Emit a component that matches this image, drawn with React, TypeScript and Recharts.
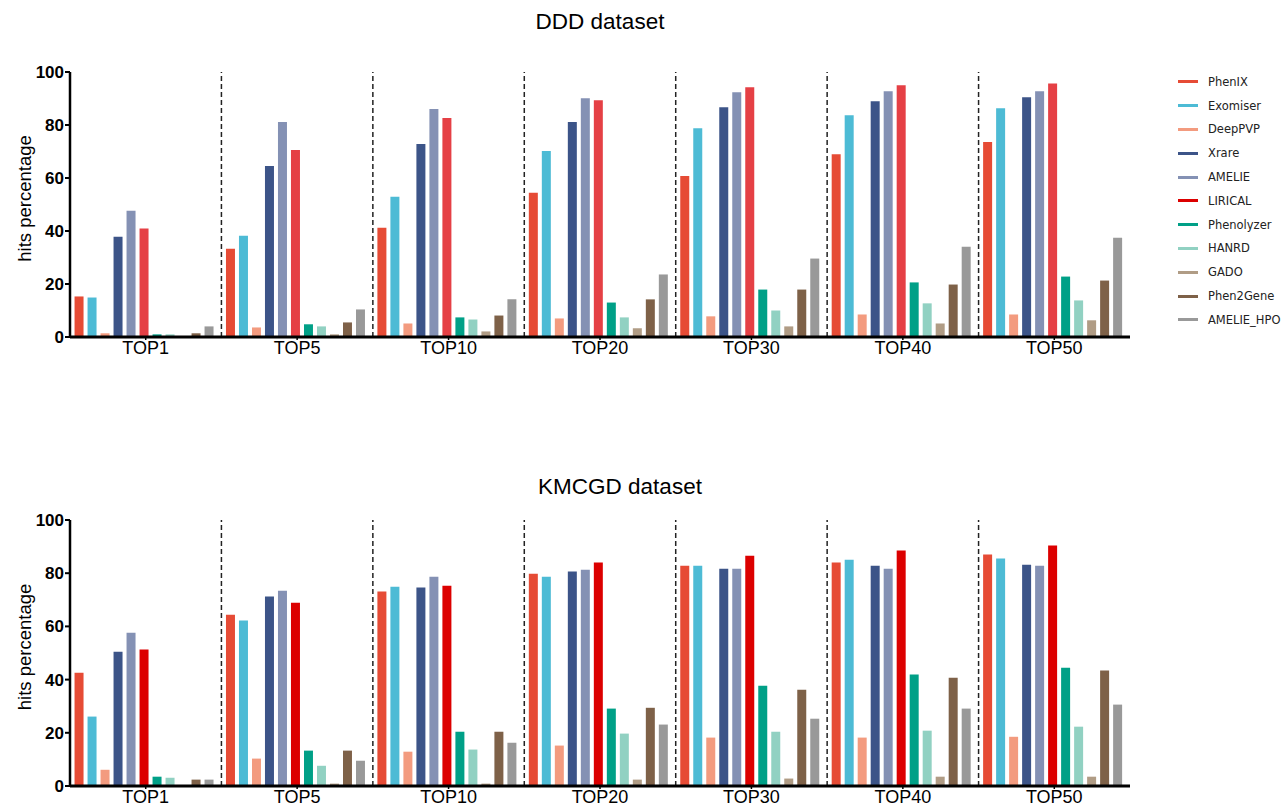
import React from 'react';
import { BarChart, Bar, XAxis, YAxis, ReferenceLine, Label } from 'recharts';

const categories = ['TOP1', 'TOP5', 'TOP10', 'TOP20', 'TOP30', 'TOP40', 'TOP50'];
const methods = ['PhenIX', 'Exomiser', 'DeepPVP', 'Xrare', 'AMELIE', 'LIRICAL', 'Phenolyzer', 'HANRD', 'GADO', 'Phen2Gene', 'AMELIE_HPO'];
const colors = ['#E64B35', '#4DBBD5', '#F39B7F', '#3C5488', '#8491B4', '#DC0000', '#00A087', '#91D1C2', '#B09C85', '#7E6148', '#999999'];
const dddColors = ['#E64B35', '#4DBBD5', '#F39B7F', '#3C5488', '#8491B4', '#E54045', '#00A087', '#91D1C2', '#B09C85', '#7E6148', '#999999'];
const yTicks = [0, 20, 40, 60, 80, 100];
const separators = categories.slice(1);

// DDD dataset
const dddPhenIX = [15.3, 33.3, 41.2, 54.4, 60.8, 69.0, 73.6];
const dddExomiser = [14.9, 38.2, 52.9, 70.2, 78.8, 83.7, 86.3];
const dddDeepPVP = [1.4, 3.6, 5.1, 7.0, 7.8, 8.5, 8.5];
const dddXrare = [37.8, 64.5, 72.8, 81.1, 86.7, 89.0, 90.5];
const dddAMELIE = [47.6, 81.1, 86.0, 90.1, 92.4, 92.7, 92.7];
const dddLIRICAL = [40.9, 70.6, 82.6, 89.3, 94.2, 95.0, 95.7];
const dddPhenolyzer = [1.0, 4.8, 7.4, 13.0, 17.9, 20.6, 22.8];
const dddHANRD = [1.0, 4.0, 6.6, 7.4, 10.0, 12.7, 13.8];
const dddGADO = [0, 1.0, 2.1, 3.3, 4.0, 5.1, 6.3];
const dddPhen2Gene = [1.4, 5.5, 8.1, 14.2, 17.9, 19.8, 21.3];
const dddAMELIE_HPO = [4.0, 10.4, 14.2, 23.6, 29.6, 34.1, 37.5];

// KMCGD dataset
const kmPhenIX = [42.6, 64.4, 73.1, 79.8, 82.8, 84.0, 87.0];
const kmExomiser = [26.1, 62.2, 74.9, 78.7, 82.8, 85.1, 85.5];
const kmDeepPVP = [6.1, 10.3, 12.9, 15.2, 18.2, 18.2, 18.5];
const kmXrare = [50.5, 71.2, 74.6, 80.6, 81.7, 82.8, 83.2];
const kmAMELIE = [57.6, 73.4, 78.7, 81.3, 81.7, 81.7, 82.8];
const kmLIRICAL = [51.3, 68.9, 75.3, 84.0, 86.6, 88.5, 90.4];
const kmPhenolyzer = [3.5, 13.3, 20.4, 29.1, 37.7, 41.9, 44.5];
const kmHANRD = [3.1, 7.6, 13.7, 19.7, 20.4, 20.8, 22.3];
const kmGADO = [0, 0.9, 0.9, 2.4, 2.8, 3.5, 3.5];
const kmPhen2Gene = [2.4, 13.3, 20.4, 29.4, 36.2, 40.7, 43.4];
const kmAMELIE_HPO = [2.4, 9.5, 16.3, 23.1, 25.3, 29.1, 30.6];

const dddSeries = [dddPhenIX, dddExomiser, dddDeepPVP, dddXrare, dddAMELIE, dddLIRICAL, dddPhenolyzer, dddHANRD, dddGADO, dddPhen2Gene, dddAMELIE_HPO];
const kmSeries = [kmPhenIX, kmExomiser, kmDeepPVP, kmXrare, kmAMELIE, kmLIRICAL, kmPhenolyzer, kmHANRD, kmGADO, kmPhen2Gene, kmAMELIE_HPO];

function buildRows(series: number[][]) {
  return categories.map((c, i) => {
    const row: Record<string, any> = { name: c };
    methods.forEach((m, j) => {
      row[m] = series[j][i];
    });
    return row;
  });
}

const dddData = buildRows(dddSeries);
const kmData = buildRows(kmSeries);

const FONT = '"Liberation Sans", Arial, sans-serif';

const YLabel = (props: any) => {
  const vb = props.viewBox || {};
  const cx = 24;
  const cy = vb.y + vb.height / 2 - 6;
  return (
    <text x={cx} y={cy} transform={`rotate(-90, ${cx}, ${cy})`} textAnchor="middle" dominantBaseline="central"
      style={{ fontFamily: FONT, fontSize: 18.5, fill: '#000' }}>
      hits percentage
    </text>
  );
};

const ChartLegend = () => (
  <div style={{ position: 'absolute', left: 1178, top: 70, width: 106, fontFamily: '"DejaVu Sans", sans-serif', fontSize: 11.5, color: '#222' }}>
    {methods.map((m, i) => (
      <div key={m} style={{ display: 'flex', alignItems: 'center', height: 23.8 }}>
        <div style={{ width: 20, height: 3, background: colors[i], marginRight: 10 }} />
        <span>{m}</span>
      </div>
    ))}
  </div>
);

function Panel({ data, palette, top, height, marginTop, xHeight, marginBottom }: any) {
  return (
    <div style={{ position: 'absolute', left: 0, top, width: 1284, height }}>
      <BarChart width={1284} height={height} data={data}
        margin={{ top: marginTop, right: 154, bottom: marginBottom, left: 0 }}
        barCategoryGap="3%" barGap={4}>
        <XAxis dataKey="name" axisLine={{ stroke: '#000', strokeWidth: 3 }}
          tickLine={{ stroke: '#000', strokeWidth: 1.5 }} tickSize={3} tickMargin={1} height={xHeight}
          tick={{ fontFamily: FONT, fontSize: 18, fill: '#000' }} interval={0} />
        <YAxis domain={[0, 100]} ticks={yTicks} width={70} interval={0}
          axisLine={{ stroke: '#000', strokeWidth: 2.5 }}
          tickLine={{ stroke: '#000', strokeWidth: 2 }} tickSize={5} tickMargin={1}
          tick={{ fontFamily: FONT, fontSize: 17, fontWeight: 'bold', fill: '#000' }}>
          <Label content={<YLabel />} />
        </YAxis>
        {separators.map((s) => (
          <ReferenceLine key={s} x={s} position="start" stroke="#222" strokeWidth={1.5} strokeDasharray="5 3" />
        ))}
        {methods.map((m, i) => (
          <Bar key={m} dataKey={m} fill={palette[i]} isAnimationActive={false} />
        ))}
      </BarChart>
    </div>
  );
}

export default function App() {
  return (
    <div style={{ position: 'absolute', left: 0, top: 0, width: 1284, height: 808, background: '#fff', overflow: 'hidden' }}>
      <div style={{ position: 'absolute', left: 70, width: 1060, top: 9, textAlign: 'center', fontFamily: FONT, fontSize: 22.5, color: '#000' }}>
        DDD dataset
      </div>
      <div style={{ position: 'absolute', left: 90, width: 1060, top: 474, textAlign: 'center', fontFamily: FONT, fontSize: 22.5, color: '#000' }}>
        KMCGD dataset
      </div>
      <Panel data={dddData} palette={dddColors} top={0} height={380} marginTop={72} xHeight={30} marginBottom={13} />
      <Panel data={kmData} palette={colors} top={430} height={378} marginTop={90} xHeight={22} marginBottom={0} />
      <ChartLegend />
    </div>
  );
}
